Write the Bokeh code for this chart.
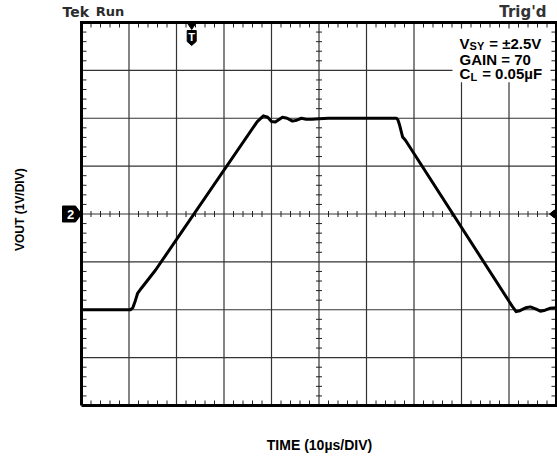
import numpy as np
from bokeh.plotting import figure
from bokeh.models import Range1d
from bokeh.core.properties import value
from bokeh.embed import file_html
from bokeh.resources import INLINE

# ---------------- data ----------------
# time in microseconds (10 us/div), output in volts (1 V/div, centre = 0)
time_us = [0.0, 10.3, 10.8, 11.3, 11.8, 12.6, 15.6, 37.0, 38.3, 39.2, 40.0, 40.8,
           42.3, 43.3, 44.4, 45.3, 46.3, 47.3, 48.5, 50.0, 52.0, 66.3, 66.6, 66.9,
           67.6, 68.2, 90.7, 91.5, 92.3, 93.5, 94.5, 95.6, 96.6, 97.6, 98.6, 100.0]
vout_v = [-2.0, -2.0, -1.96, -1.82, -1.66, -1.55, -1.17, 1.93, 2.05, 2.02, 1.93, 1.92,
          2.02, 2.0, 1.94, 1.96, 2.0, 1.98, 1.98, 1.99, 2.0, 2.0, 1.97, 1.88,
          1.61, 1.54, -1.93, -2.04, -2.02, -1.96, -1.94, -1.98, -2.03, -2.01, -1.97, -1.96]

n_xdiv, n_ydiv = 10, 8
us_per_div, v_per_div = 10.0, 1.0
trigger_us = 23.2
channel_label = "2"
x_title = "TIME (10µs/DIV)"
y_title = "VOUT (1V/DIV)"
notes = [("V", "SY", " = ±2.5V"), ("GAIN = 70", "", ""), ("C", "L", " = 0.05µF")]

# ---------------- geometry ----------------
W, H = 557, 456
px_x = 4.75       # px per us
px_y = 47.875     # px per V
left_px, top_px = 81, 22
x0 = -left_px / px_x
x1 = (W - left_px) / px_x
y1 = 4 + top_px / px_y
y0 = y1 - H / px_y
dx = lambda p: p / px_x
dy = lambda p: p / px_y
xmax = n_xdiv * us_per_div
ymax = n_ydiv / 2 * v_per_div

p = figure(width=W, height=H, x_range=Range1d(x0, x1), y_range=Range1d(y0, y1),
           x_axis_type=None, y_axis_type=None, toolbar_location=None,
           output_backend="svg", min_border=0, outline_line_color=None,
           background_fill_color="white", border_fill_color="white")

# grid lines
gx = [i * us_per_div for i in range(1, n_xdiv)]
gy = [-ymax + j * v_per_div for j in range(1, n_ydiv)]
p.segment(x0=gx, y0=[-ymax] * len(gx), x1=gx, y1=[ymax] * len(gx),
          line_color="#333333", line_width=1.2)
p.segment(x0=[0] * len(gy), y0=gy, x1=[xmax] * len(gy), y1=gy,
          line_color="#333333", line_width=1.2)

# minor ticks
tx = [k * us_per_div / 5 for k in range(1, n_xdiv * 5) if k % 5]
ty = [-ymax + k * v_per_div / 5 for k in range(1, n_ydiv * 5) if k % 5]
L, S = 5, 3
segs = []
for t in tx:
    segs.append((t, -ymax, t, -ymax + dy(L)))
    segs.append((t, ymax, t, ymax - dy(L)))
    segs.append((t, -dy(S), t, dy(S)))
for v in ty:
    segs.append((0, v, dx(L), v))
    segs.append((xmax, v, xmax - dx(L), v))
    segs.append((xmax / 2 - dx(S), v, xmax / 2 + dx(S), v))

# white note box (hides grid behind the text)
p.quad(left=[78.1], right=[xmax - dx(6)], top=[ymax - dy(6)], bottom=[2.75],
       fill_color="white", line_color=None)

p.segment(x0=[s[0] for s in segs], y0=[s[1] for s in segs],
          x1=[s[2] for s in segs], y1=[s[3] for s in segs],
          line_color="#222222", line_width=1)

# border
p.line(x=[0, xmax, xmax, 0, 0], y=[-ymax, -ymax, ymax, ymax, -ymax],
       line_color="black", line_width=3, line_join="miter")

# waveform
p.line(x=time_us, y=vout_v, line_color="black", line_width=3,
       line_join="round", line_cap="round")

# trigger marker
tt = trigger_us
ytop = ymax - dy(1)
p.patch(x=[tt - dx(4), tt + dx(4), tt], y=[ytop, ytop, ytop - dy(6)], fill_color="black",
        line_color="black")
sy0 = ymax - dy(8)
p.patch(x=[tt - dx(4.5), tt + dx(4.5), tt + dx(4.5), tt, tt - dx(4.5)],
        y=[sy0, sy0, sy0 - dy(11), sy0 - dy(15), sy0 - dy(11)],
        fill_color="black", line_color="black")
p.text(x=[tt], y=[sy0 - dy(6.5)], text=["T"], text_color="white",
       text_font=value("Liberation Sans"), text_font_style="bold", text_font_size="11px",
       text_align="center", text_baseline="middle")

# channel marker
p.patch(x=[-dx(19), -dx(6), 0, -dx(6), -dx(19)],
        y=[dy(8), dy(8), 0, -dy(8), -dy(8)], fill_color="black", line_color="black")
p.text(x=[-dx(11)], y=[0], text=[channel_label], text_color="white",
       text_font=value("Liberation Sans"), text_font_style="bold", text_font_size="13px",
       text_align="center", text_baseline="middle")
# right edge marker
p.patch(x=[xmax - dx(2), xmax - dx(2), xmax - dx(7)], y=[dy(4), -dy(4), 0],
        fill_color="black", line_color="black")

# notes
AW = {"V": 667, "S": 667, "Y": 667, " ": 278, "=": 584, "±": 584, "2": 556, ".": 278,
      "5": 556, "G": 778, "A": 722, "I": 278, "N": 722, "7": 556, "0": 556, "C": 722,
      "L": 611, "µ": 611, "F": 611}
def tw(s, size):
    return sum(AW.get(c, 600) for c in s) * size / 1000.0

F, FS = 15, 11
nx0 = 79.6
baselines = [3.478 + dy(4), 3.144 + dy(4), 2.851 + dy(4)]
xs, ys, ts, sz = [], [], [], []
for (a, b, c), yb in zip(notes, baselines):
    xs.append(nx0); ys.append(yb); ts.append(a); sz.append(f"{F}px")
    off = tw(a, F)
    if b:
        xs.append(nx0 + dx(off)); ys.append(yb - dy(3)); ts.append(b); sz.append(f"{FS}px")
        off += tw(b, FS)
    if c:
        lead = len(c) - len(c.lstrip())
        off += tw(c[:lead] + " ", F) * 0.6
        xs.append(nx0 + dx(off)); ys.append(yb); ts.append(c.lstrip()); sz.append(f"{F}px")
p.text(x=xs, y=ys, text=ts, text_font_size=sz, text_color="black",
       text_font=value("Liberation Sans"), text_font_style="bold",
       text_align="left", text_baseline="alphabetic")

# header texts
hy = ymax + dy(11)
p.text(x=[-4.0], y=[hy], text=["Tek"], text_color="#2b2b2b",
       text_font=value("DejaVu Sans"), text_font_style="bold", text_font_size="14px",
       text_baseline="alphabetic")
p.text(x=[3.0], y=[hy], text=["Run"], text_color="#2b2b2b",
       text_font=value("DejaVu Sans"), text_font_style="bold", text_font_size="13px",
       text_baseline="alphabetic")
p.text(x=[97.9], y=[hy], text=["Trig'd"], text_color="#333333",
       text_font=value("DejaVu Sans"), text_font_style="bold", text_font_size="15px",
       text_align="right", text_baseline="alphabetic")

# axis titles
p.text(x=[50.1], y=[-4.835], text=[x_title], text_color="black",
       text_font=value("Liberation Sans"), text_font_style="bold", text_font_size="14px",
       text_align="center", text_baseline="middle")
p.text(x=[-13.05], y=[0.09], text=[y_title], text_color="black", angle=np.pi / 2,
       text_font=value("Liberation Sans"), text_font_style="bold", text_font_size="12px",
       text_align="center", text_baseline="middle")

open("out.html", "w").write(file_html(p, INLINE))
